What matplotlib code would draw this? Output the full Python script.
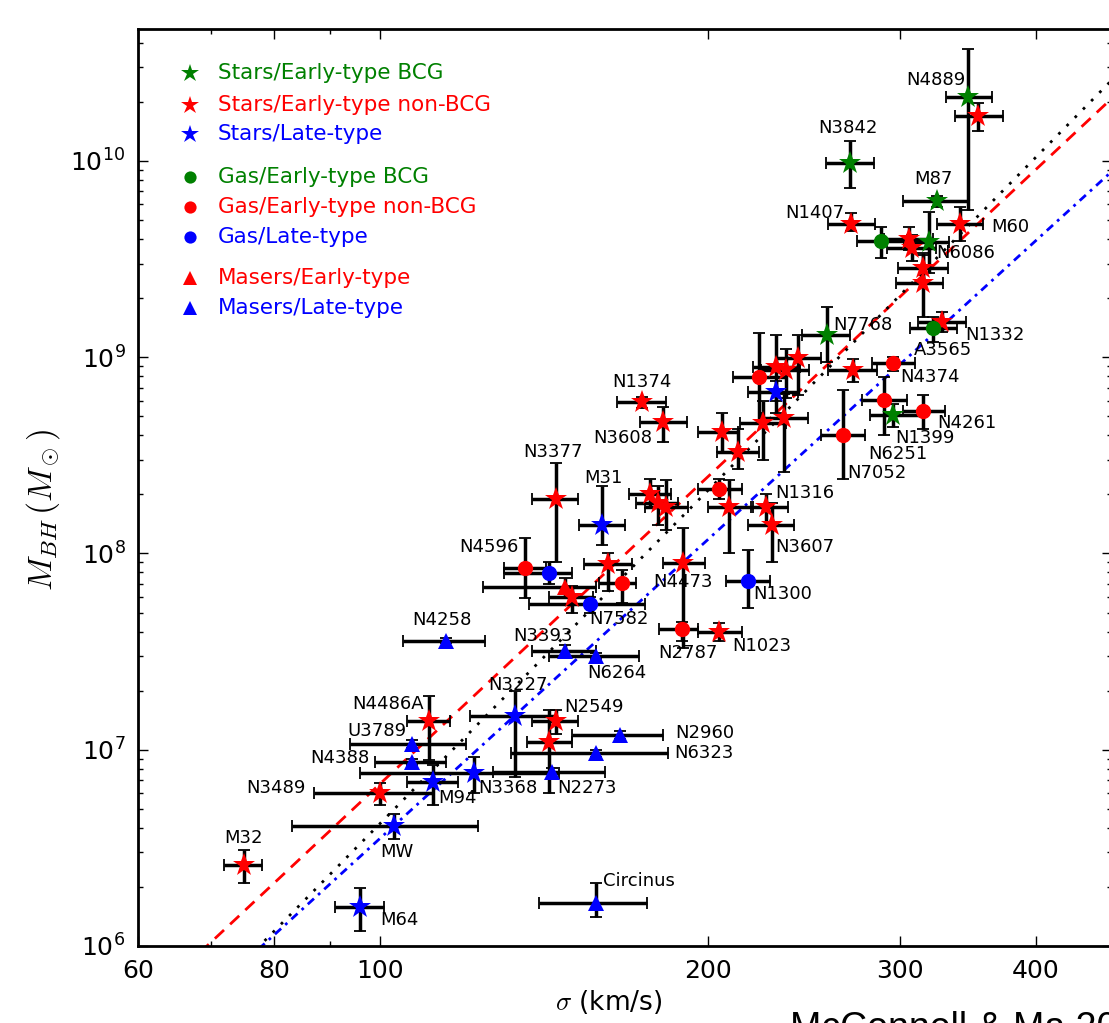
import numpy as np
import matplotlib.pyplot as plt
from matplotlib.ticker import FixedLocator, FixedFormatter, NullFormatter, LogLocator

# each row: name, sigma, sigma_lo, sigma_hi, M_BH, M_lo, M_hi   (km/s, solar masses)
stars_bcg = [
    ("N4889", 347, 331, 365, 2.12e10, 5.6e9, 3.72e10),
    ("N3842", 270, 257, 284, 9.8e9, 7.3e9, 1.26e10),
    ("M87", 325, 302, 347, 6.25e9, 5.8e9, 6.6e9),
    ("N6086", 319, 305, 333, 3.87e9, 2.7e9, 5.5e9),
    ("N7768", 257.5, 244, 270, 1.3e9, 9.4e8, 1.8e9),
    ("N1399", 296, 282, 315, 5.1e8, 4.4e8, 5.8e8),
]
stars_early = [
    ("", 354, 337, 373, 1.7e10, 1.42e10, 1.98e10),
    ("N1407", 271, 258, 285, 4.78e9, 4.4e9, 5.4e9),
    ("M60", 341, 325, 358, 4.78e9, 3.9e9, 5.8e9),
    ("", 306, 290, 322, 4.0e9, 3.5e9, 4.6e9),
    ("", 308, 292, 324, 3.6e9, 3.1e9, 4.2e9),
    ("", 315, 299, 332, 2.85e9, 2.4e9, 3.3e9),
    ("", 315, 298, 329, 2.39e9, 1.6e9, 3.4e9),
    ("N1332", 328, 312, 345, 1.51e9, 1.35e9, 1.7e9),
    ("", 272, 258, 286, 8.6e8, 7.5e8, 9.8e8),
    ("", 231, 220, 243, 8.9e8, 6.0e8, 1.3e9),
    ("", 236, 224, 248, 8.6e8, 6.2e8, 1.1e9),
    ("", 242, 231, 254, 9.9e8, 6.4e8, 1.3e9),
    ("N1374", 174, 165, 183, 5.9e8, 5.5e8, 6.3e8),
    ("N3608", 182, 173.5, 191.6, 4.68e8, 3.7e8, 5.6e8),
    ("", 206, 196, 213, 4.16e8, 3.3e8, 5.2e8),
    ("", 225, 214, 236, 4.6e8, 3.0e8, 6.0e8),
    ("", 235, 224, 247, 4.9e8, 2.6e8, 6.5e8),
    ("", 213, 204, 223, 3.3e8, 2.7e8, 4.3e8),
    ("N3377", 145, 138, 152, 1.9e8, 9.0e7, 2.9e8),
    ("", 177, 169.5, 185, 2.0e8, 1.7e8, 2.4e8),
    ("", 180, 172, 188, 1.8e8, 1.4e8, 2.2e8),
    ("", 183, 175, 192, 1.73e8, 1.32e8, 2.37e8),
    ("", 209, 200, 220, 1.73e8, 1.0e8, 2.37e8),
    ("N1316", 226, 219, 237, 1.73e8, 1.4e8, 2.0e8),
    ("N3607", 229, 218, 240, 1.4e8, 9.0e7, 1.8e8),
    ("", 162, 154, 170.5, 8.8e7, 6.4e7, 1.0e8),
    ("N4473", 190, 182, 199, 8.95e7, 3.3e7, 1.35e8),
    ("", 150, 143, 157, 6.0e7, 5.0e7, 6.8e7),
    ("N1023", 205, 196, 215, 4.0e7, 3.6e7, 4.4e7),
    ("N2549", 145, 138, 152, 1.4e7, 1.2e7, 1.6e7),
    ("", 143, 136.6, 150, 1.09e7, 6.0e6, 1.6e7),
    ("N4486A", 111, 106, 116, 1.4e7, 8.9e6, 1.88e7),
    ("N3489", 100, 87, 112, 6.0e6, 5.2e6, 6.8e6),
    ("M32", 75, 72, 78, 2.6e6, 2.1e6, 3.1e6),
]
stars_late = [
    ("", 231, 218, 242, 6.65e8, 5.2e8, 7.6e8),
    ("M31", 160, 152.5, 168, 1.4e8, 1.1e8, 2.2e8),
    ("N3227", 133, 121, 145, 1.49e7, 7.3e6, 2.0e7),
    ("N3368", 122, 96, 146, 7.6e6, 6.0e6, 9.2e6),
    ("M94", 112, 106, 118, 6.85e6, 5.2e6, 8.4e6),
    ("MW", 103, 83, 123, 4.1e6, 3.5e6, 4.7e6),
    ("M64", 96, 91, 101, 1.58e6, 1.19e6, 1.98e6),
]
gas_bcg = [
    ("", 288.5, 274, 303, 3.9e9, 3.2e9, 4.6e9),
    ("A3565", 322, 307, 339, 1.41e9, 1.2e9, 1.6e9),
]
gas_early = [
    ("N4374", 296, 283, 310, 9.35e8, 8.5e8, 1.0e9),
    ("N6251", 290, 277, 305, 6.05e8, 4.0e8, 7.9e8),
    ("N4261", 315, 302, 330, 5.3e8, 4.3e8, 6.4e8),
    ("N7052", 266, 254, 279, 4.0e8, 2.4e8, 6.8e8),
    ("", 223, 211, 236, 7.9e8, 4.6e8, 1.33e9),
    ("", 205, 196, 215, 2.13e8, 1.9e8, 2.4e8),
    ("N4596", 136, 130, 142, 8.4e7, 5.9e7, 1.2e8),
    ("", 167, 159, 172, 7.1e7, 5.6e7, 8.2e7),
    ("N2787", 189.5, 180.5, 196, 4.1e7, 3.6e7, 4.5e7),
]
gas_late = [
    ("", 143, 130, 150, 7.95e7, 7.0e7, 9.0e7),
    ("N7582", 156, 137, 175, 5.5e7, 5.0e7, 6.0e7),
    ("N1300", 218, 208, 228, 7.2e7, 5.3e7, 1.04e8),
]
masers_early = [
    ("", 148, 124.5, 158, 6.75e7, 6.0e7, 7.5e7),
]
masers_late = [
    ("N4258", 115, 105, 125, 3.6e7, 3.5e7, 3.7e7),
    ("N3393", 148, 138, 158, 3.2e7, 3.0e7, 3.4e7),
    ("N6264", 158, 143, 173, 3.0e7, 2.9e7, 3.1e7),
    ("N2960", 166, 150, 182, 1.19e7, 1.14e7, 1.24e7),
    ("N6323", 158, 132, 184, 9.6e6, 9.2e6, 1.0e7),
    ("N2273", 144, 127, 161, 7.7e6, 7.3e6, 8.1e6),
    ("U3789", 107, 94, 120, 1.07e7, 1.02e7, 1.12e7),
    ("N4388", 107, 99, 115, 8.7e6, 8.4e6, 9.0e6),
    ("Circinus", 158, 140, 176, 1.66e6, 1.4e6, 2.1e6),
]

# fits: log M = a + b log(sigma/200)
fit_a = [8.39, 8.32, 8.07]
fit_b = [5.20, 5.64, 5.06]

x_ticks = [60, 80, 100, 200, 300, 400]

# label offsets from the point, in pixels (dx, dy)
label_offsets = {
    "N4889": (-33, 17), "N3842": (-2, 35), "M87": (-4, 22), "N1407": (-37, 11),
    "M60": (50, -3), "N6086": (37, -11), "N7768": (36, 10), "N1332": (53, -13),
    "A3565": (10, -22), "N4374": (37, -14), "N1374": (0, 20), "N3608": (-40, -16),
    "N4261": (44, -12), "N1399": (32, -23), "N6251": (14, -54), "N7052": (34, -38),
    "N3377": (-3, 47), "M31": (1, 47), "N4596": (-36, 21), "N1316": (39, 14),
    "N3607": (33, -22), "N4473": (0, -19), "N1300": (34, -13), "N7582": (29, -15),
    "N2787": (6, -24), "N1023": (42, -14), "N4258": (-4, 21), "N3393": (-22, 15),
    "N6264": (21, -17), "N3227": (3, 31), "N2549": (38, 14), "N2960": (85, 2),
    "N6323": (108, 0), "N2273": (35, -16), "N3368": (34, -15), "M94": (24, -16),
    "N4486A": (-41, 17), "U3789": (-35, 13), "N4388": (-72, 4), "N3489": (-104, 5),
    "MW": (3, -26), "M32": (0, 27), "M64": (39, -13), "Circinus": (43, 22),
}

green = (0, 0.5, 0)
groups = [
    (stars_bcg, "*", green, 17, "Stars/Early-type BCG"),
    (stars_early, "*", "r", 17, "Stars/Early-type non-BCG"),
    (stars_late, "*", "b", 17, "Stars/Late-type"),
    (gas_bcg, "o", green, 11, "Gas/Early-type BCG"),
    (gas_early, "o", "r", 11, "Gas/Early-type non-BCG"),
    (gas_late, "o", "b", 11, "Gas/Late-type"),
    (masers_early, "^", "r", 12, "Masers/Early-type"),
    (masers_late, "^", "b", 12, "Masers/Late-type"),
]
legend_rows = [73, 105, 134, 177, 207, 237, 278, 308]  # pixel rows of the key

fig = plt.figure(figsize=(11.09, 10.23), dpi=100)
W, H = 1109, 1023
ax = fig.add_axes([138 / W, 1 - 946 / H, 974 / W, 917 / H])
ax.set_xscale("log")
ax.set_yscale("log")
ax.set_xlim(60, 470)
ax.set_ylim(1e6, 4.7e10)

# fit lines
sx = np.logspace(np.log10(55), np.log10(500), 300)
line_styles = [("r", (4.5, 3)), ("k", (1, 3.2)), ("b", (3, 2, 1, 2))]
for a, b, (c, dash) in zip(fit_a, fit_b, line_styles):
    ax.plot(sx, 10 ** (a + b * np.log10(sx / 200.0)), color=c, lw=2,
            dashes=dash, zorder=1)

for data, mk, col, ms, lab in groups:
    names = [d[0] for d in data]
    sig = np.array([d[1] for d in data])
    slo = np.array([d[2] for d in data])
    shi = np.array([d[3] for d in data])
    m = np.array([d[4] for d in data])
    mlo = np.array([d[5] for d in data])
    mhi = np.array([d[6] for d in data])
    ax.errorbar(sig, m, xerr=[sig - slo, shi - sig], yerr=[m - mlo, mhi - m],
                fmt="none", ecolor="k", elinewidth=2.5, capsize=4, capthick=1.3,
                zorder=2)
    ax.plot(sig, m, linestyle="none", marker=mk, color=col, ms=ms, mew=0,
            zorder=3)
    for n, s, mm in zip(names, sig, m):
        if n:
            dx, dy = label_offsets[n]
            ax.annotate(n, (s, mm), xytext=(dx, dy), textcoords="offset pixels",
                        ha="center", va="center", fontsize=13, zorder=4)

# key
for (data, mk, col, ms, lab), row in zip(groups, legend_rows):
    yy = (946 - row) / 917
    ax.plot([(190 - 138) / 974], [yy], marker=mk, color=col, ms=ms * 0.8,
            mew=0, transform=ax.transAxes, linestyle="none")
    ax.text((218 - 138) / 974, yy, lab, color=col, fontsize=15.5,
            va="center", ha="left", transform=ax.transAxes)

ax.xaxis.set_major_locator(FixedLocator(x_ticks))
ax.xaxis.set_major_formatter(FixedFormatter([str(t) for t in x_ticks]))
ax.xaxis.set_minor_locator(FixedLocator([70, 90]))
ax.xaxis.set_minor_formatter(NullFormatter())
ax.yaxis.set_minor_locator(LogLocator(base=10, subs=np.arange(2, 10)))
ax.yaxis.set_minor_formatter(NullFormatter())

ax.tick_params(which="both", direction="in", top=True, right=True,
               labelsize=18, pad=9)
ax.tick_params(which="major", length=7.5, width=1)
ax.tick_params(which="minor", length=3.5, width=1)
for sp in ax.spines.values():
    sp.set_linewidth(2)

ax.set_xlabel(r"$\sigma$ (km/s)", fontsize=19, math_fontfamily="cm", va="top")
ax.xaxis.set_label_coords((609 - 138) / 974, (946 - 988) / 917)
ax.set_ylabel(r"$M_{BH}\,(M_\odot)$", fontsize=24, math_fontfamily="cm")
ax.yaxis.set_label_coords((62 - 138) / 974, (946 - 510) / 917)

fig.text(790 / W, 1 - 1039 / H, "McConnell & Ma 2013", fontsize=27,
         family="Liberation Sans", va="baseline", ha="left")

fig.savefig("out.png", dpi=100)
